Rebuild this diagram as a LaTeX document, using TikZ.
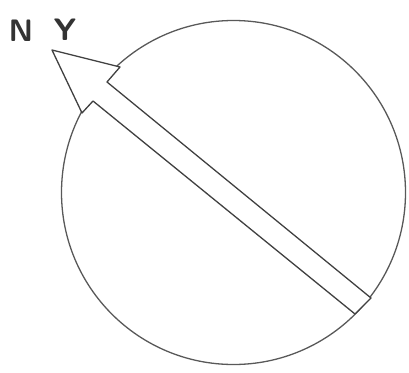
\documentclass[tikz,border=0pt]{standalone}
\begin{document}
\begin{tikzpicture}[x=1pt,y=-1pt,
  outline/.style={draw=black!75,line width=1.3pt,line join=round},
  lbl/.style={font=\fontsize{31}{31}\selectfont\sffamily\bfseries,text=black!80,inner sep=0pt}]
\useasboundingbox (0,0) rectangle (409,372);
\node[outline,circle,minimum size=344pt,inner sep=0pt,draw=black!65] (c) at (233.5,192.5) {};
\coordinate (tip) at (52,50);
\coordinate (rb) at (120,67);
\coordinate (rn) at (107,82);
\coordinate (re) at (371,298);
\coordinate (le) at (355,314);
\coordinate (ln) at (93,101);
\coordinate (lb) at (82,113);
\draw[outline,fill=white] (tip) -- (rb) -- (rn) -- (re) -- (le) -- (ln) -- (lb) -- cycle;
\node[lbl] (n) at (21,31) {N};
\node[lbl] (y) at (65,30) {Y};
\end{tikzpicture}
\end{document}
